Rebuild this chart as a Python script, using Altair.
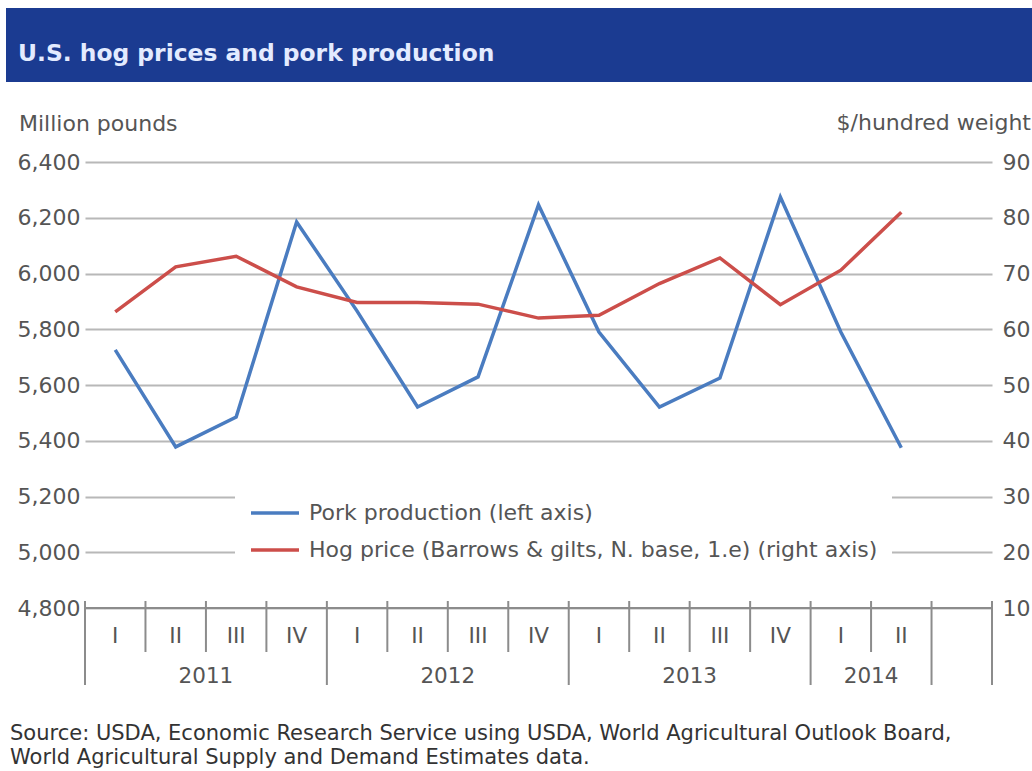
import altair as alt
import pandas as pd

# ---- data ----
quarters = ["I", "II", "III", "IV", "I", "II", "III", "IV", "I", "II", "III", "IV", "I", "II"]
years = ["2011", "2012", "2013", "2014"]
quarters_per_year = [4, 4, 4, 2]
pork = [5726, 5378, 5485, 6185, 5865, 5521, 5629, 6246, 5790, 5521, 5625, 6274, 5790, 5375]
hog = [63.1, 71.2, 73.1, 67.6, 64.8, 64.8, 64.5, 62.0, 62.5, 68.2, 72.8, 64.4, 70.6, 81.0]
left_ticks = [4800, 5000, 5200, 5400, 5600, 5800, 6000, 6200, 6400]
right_ticks = [10, 20, 30, 40, 50, 60, 70, 80, 90]
n_slots = 15  # 14 quarters + one empty slot at the end

PORK = "Pork production (left axis)"
HOG = "Hog price (Barrows & gilts, N. base, 1.e) (right axis)"
TITLE = "U.S. hog prices and pork production"
LEFT_TITLE = "Million pounds"
RIGHT_TITLE = "$/hundred weight"
FOOTER = ("Source: USDA, Economic Research Service using USDA, World Agricultural Outlook Board,\n"
          "World Agricultural Supply and Demand Estimates data.")

BLUE = "#4a7cc0"
RED = "#cc4e4a"
GRAY = "#555555"
FONT = "DejaVu Sans"

W, H = 907, 446

# ---- tables ----
df_pork = pd.DataFrame({"pos": [i + 0.5 for i in range(len(pork))], "value": pork, "series": PORK})
df_hog = pd.DataFrame({"pos": [i + 0.5 for i in range(len(hog))], "value": hog, "series": HOG})
df_q = pd.DataFrame({"pos": [i + 0.5 for i in range(len(quarters))], "q": quarters})

bounds = [0]
for n in quarters_per_year:
    bounds.append(bounds[-1] + n)
year_mid = [(bounds[i] + bounds[i + 1]) / 2 for i in range(len(years))]
df_y = pd.DataFrame({"pos": year_mid, "year": years})
long_ticks = bounds + [n_slots]
short_ticks = [p for p in range(n_slots + 1) if p not in long_ticks]
df_long = pd.DataFrame({"pos": long_ticks})
df_short = pd.DataFrame({"pos": short_ticks})

xscale = alt.Scale(domain=[0, n_slots], nice=False, zero=False)
color = alt.Color(
    "series:N",
    scale=alt.Scale(domain=[PORK, HOG], range=[BLUE, RED]),
    legend=alt.Legend(
        orient="none", legendX=150, legendY=311, title=None,
        symbolType="stroke", symbolSize=2304, symbolStrokeWidth=3.5,
        labelFont=FONT, labelFontSize=22, labelColor=GRAY, labelOffset=8,
        padding=14, fillColor="white", rowPadding=0, labelLimit=800,
    ),
)

pork_line = alt.Chart(df_pork).mark_line(strokeWidth=3.5).encode(
    x=alt.X("pos:Q", scale=xscale, axis=None),
    y=alt.Y("value:Q", scale=alt.Scale(domain=[4800, 6400], nice=False, zero=False),
            axis=alt.Axis(orient="left", values=left_ticks, format=",.0f", title=None,
                          grid=True, gridColor="#b8b8b8", gridWidth=2, ticks=False,
                          domain=False, labelFont=FONT, labelFontSize=22,
                          labelColor=GRAY, labelPadding=5)),
    color=color,
)

hog_line = alt.Chart(df_hog).mark_line(strokeWidth=3.5).encode(
    x=alt.X("pos:Q", scale=xscale, axis=None),
    y=alt.Y("value:Q", scale=alt.Scale(domain=[10, 90], nice=False, zero=False),
            axis=alt.Axis(orient="right", values=right_ticks, title=None,
                          grid=False, ticks=False, domain=False, labelFont=FONT,
                          labelFontSize=22, labelColor=GRAY, labelPadding=10)),
    color=color,
)

one = pd.DataFrame({"t": [""]})

baseline = alt.Chart(one).mark_rule(color="#8c8c8c", strokeWidth=2).encode(
    x=alt.value(0), x2=alt.value(W), y=alt.value(H))

short_rules = alt.Chart(df_short).mark_rule(color="#8c8c8c", strokeWidth=2).encode(
    x=alt.X("pos:Q", scale=xscale, axis=None), y=alt.value(439), y2=alt.value(490))
long_rules = alt.Chart(df_long).mark_rule(color="#8c8c8c", strokeWidth=2).encode(
    x=alt.X("pos:Q", scale=xscale, axis=None), y=alt.value(439), y2=alt.value(523))

q_text = alt.Chart(df_q).mark_text(font=FONT, fontSize=21.5, color=GRAY, baseline="alphabetic").encode(
    x=alt.X("pos:Q", scale=xscale, axis=None), y=alt.value(481), text="q:N")
y_text = alt.Chart(df_y).mark_text(font=FONT, fontSize=21.5, color=GRAY, baseline="alphabetic").encode(
    x=alt.X("pos:Q", scale=xscale, axis=None), y=alt.value(521), text="year:N")

banner = alt.Chart(one).mark_rect(color="#1b3b91").encode(
    x=alt.value(-79), x2=alt.value(947), y=alt.value(-154), y2=alt.value(-80))
title = alt.Chart(pd.DataFrame({"t": [TITLE]})).mark_text(
    font=FONT, fontSize=23.4, fontWeight="bold", color="#e3ebff", align="left", baseline="alphabetic"
).encode(x=alt.value(-67), y=alt.value(-101), text="t:N")

left_title = alt.Chart(pd.DataFrame({"t": [LEFT_TITLE]})).mark_text(
    font=FONT, fontSize=22, color=GRAY, align="left", baseline="alphabetic"
).encode(x=alt.value(-66), y=alt.value(-31), text="t:N")
right_title = alt.Chart(pd.DataFrame({"t": [RIGHT_TITLE]})).mark_text(
    font=FONT, fontSize=22, color=GRAY, align="right", baseline="alphabetic"
).encode(x=alt.value(946), y=alt.value(-32), text="t:N")

footer = alt.Chart(pd.DataFrame({"t": [FOOTER]})).mark_text(
    font=FONT, fontSize=21, color="#333333", align="left", baseline="alphabetic",
    lineBreak="\n", lineHeight=24,
).encode(x=alt.value(-75), y=alt.value(578), text="t:N")

chart = alt.layer(
    banner, title, left_title, right_title,
    pork_line, hog_line,
    baseline, short_rules, long_rules, q_text, y_text, footer,
).resolve_scale(y="independent").properties(
    width=W, height=H,
    autosize=alt.AutoSizeParams(type="none"),
    padding={"left": 85, "top": 162, "right": 40, "bottom": 163},
    background="white",
).configure_view(stroke=None)

chart.save("out.html", embed_options={"renderer": "svg", "actions": False})
